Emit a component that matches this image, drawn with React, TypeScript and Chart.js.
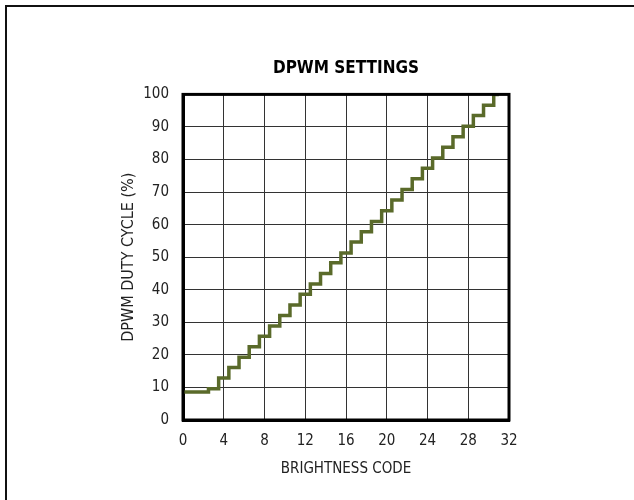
import React, { useEffect, useRef } from "react";
import { Chart, registerables } from "chart.js";

Chart.register(...registerables);

const brightnessCodes: number[] = [
  0, 1, 2, 3, 4, 5, 6, 7, 8, 9, 10, 11, 12, 13, 14, 15,
  16, 17, 18, 19, 20, 21, 22, 23, 24, 25, 26, 27, 28, 29, 30, 31,
];
const dutyCycle: number[] = [
  8.6, 8.6, 8.6, 9.6, 12.9, 16.1, 19.3, 22.5, 25.7, 28.9, 32.1, 35.3, 38.6, 41.8, 45.0, 48.3,
  51.3, 54.7, 57.8, 61.0, 64.3, 67.6, 70.8, 74.1, 77.3, 80.5, 83.8, 87.0, 90.2, 93.5, 96.7, 100,
];
const xTicks: number[] = [0, 4, 8, 12, 16, 20, 24, 28, 32];
const yTicks: number[] = [0, 10, 20, 30, 40, 50, 60, 70, 80, 90, 100];

const chartTitle = "DPWM SETTINGS";
const xTitle = "BRIGHTNESS CODE";
const yTitle = "DPWM DUTY CYCLE (%)";

const FONT = "'Liberation Sans Narrow', 'Arial Narrow', 'DejaVu Sans Condensed', Arial, sans-serif";

const framePlugin = {
  id: "plotFrame",
  afterDraw(chart: any) {
    const { ctx, chartArea } = chart;
    ctx.save();
    ctx.strokeStyle = "#000";
    ctx.lineWidth = 3;
    ctx.strokeRect(chartArea.left, chartArea.top, chartArea.right - chartArea.left, chartArea.bottom - chartArea.top);
    ctx.restore();
  },
};

export default function App() {
  const canvasRef = useRef<HTMLCanvasElement | null>(null);

  useEffect(() => {
    if (!canvasRef.current) return;
    const chart = new Chart(canvasRef.current, {
      type: "line",
      data: {
        datasets: [
          {
            data: brightnessCodes.map((c, i) => ({ x: c, y: dutyCycle[i] })),
            borderColor: "#5a6a2a",
            borderWidth: 3.5,
            pointRadius: 0,
            stepped: "middle",
            fill: false,
          },
        ],
      },
      options: {
        animation: false,
        responsive: false,
        maintainAspectRatio: false,
        layout: { padding: { left: 115, right: 125, top: 0, bottom: 18 } },
        plugins: {
          legend: { display: false },
          tooltip: { enabled: false },
          title: {
            display: true,
            text: chartTitle,
            fullSize: false,
            color: "#000",
            font: { family: FONT, size: 17, weight: "bold" },
            padding: { top: 58, bottom: 16 },
          },
        },
        scales: {
          x: {
            type: "linear",
            min: 0,
            max: 32,
            afterBuildTicks: (s: any) => {
              s.ticks = xTicks.map((v) => ({ value: v }));
            },
            afterFit: (s: any) => {
              s.height = 62;
            },
            ticks: { color: "#222", font: { family: FONT, size: 15 }, padding: 12, maxRotation: 0 },
            grid: { color: "#333", lineWidth: 1, drawTicks: false },
            border: { color: "#000", width: 3 },
            title: {
              display: true,
              text: xTitle,
              color: "#222",
              font: { family: FONT, size: 15 },
              padding: { top: 4, bottom: 4 },
            },
          },
          y: {
            type: "linear",
            min: 0,
            max: 100,
            afterBuildTicks: (s: any) => {
              s.ticks = yTicks.map((v) => ({ value: v }));
            },
            afterFit: (s: any) => {
              s.width = 68;
            },
            ticks: { color: "#222", font: { family: FONT, size: 15 }, padding: 14 },
            grid: { color: "#333", lineWidth: 1, drawTicks: false },
            border: { color: "#000", width: 3 },
            title: {
              display: true,
              text: yTitle,
              color: "#222",
              font: { family: FONT, size: 16 },
              padding: { top: 4, bottom: 4 },
            },
          },
        },
      },
      plugins: [framePlugin],
    } as any);
    return () => chart.destroy();
  }, []);

  return (
    <div style={{ position: "fixed", left: 0, top: 0, width: 634, height: 500, overflow: "hidden", background: "#fff" }}>
      <div
        style={{
          position: "absolute",
          left: 5,
          top: 5,
          width: 700,
          height: 600,
          borderLeft: "2px solid #111",
          borderTop: "2px solid #111",
        }}
      />
      <canvas ref={canvasRef} width={634} height={500} style={{ position: "absolute", left: 0, top: 0 }} />
    </div>
  );
}
